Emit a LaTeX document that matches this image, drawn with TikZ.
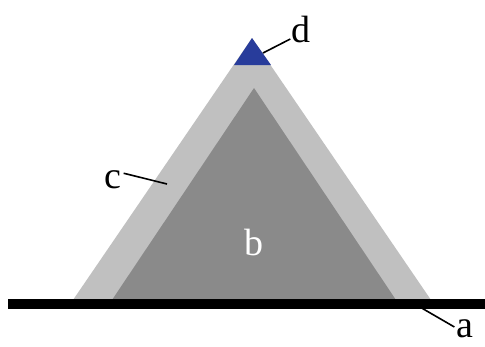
\documentclass[tikz,border=0pt]{standalone}
\usepackage{fontspec}
\setmainfont{Liberation Serif}
\definecolor{outerg}{RGB}{192,192,192}
\definecolor{innerg}{RGB}{138,138,138}
\definecolor{tipblue}{RGB}{40,60,155}
\begin{document}
\begin{tikzpicture}[x=1pt,y=-1pt,
  lbl/.style={font=\fontsize{38}{40}\selectfont, inner sep=0pt, anchor=base},
  leader/.style={draw=black, line width=1.6pt}]
\useasboundingbox[fill=white] (0,0) rectangle (485,346);
% outer triangle c
\fill[outerg] (73,300) -- (252,38) -- (431,300) -- cycle;
% inner triangle b
\fill[innerg] (112,300) -- (254,88) -- (396,300) -- cycle;
% tip d
\fill[tipblue] (234,65) -- (252,38) -- (271,65) -- cycle;
% base bar a
\fill[black] (8,299) rectangle (485,309);
% labels
\node[lbl, text=white] (b) at (254,255) {b};
\node[lbl] (c) at (113,188) {c};
\node[lbl] (d) at (301,42) {d};
\node[lbl] (a) at (465,337) {a};
\coordinate (cend) at (167,184);
\coordinate (dend) at (263,53);
\coordinate (aend) at (413,303);
\draw[leader] (c.east) ++(2,-6) -- (cend);
\draw[leader] ([xshift=-1pt,yshift=-10pt]d.west) -- (dend);
\draw[leader] ([xshift=-2pt,yshift=-8pt]a.north west) -- (aend);
\end{tikzpicture}
\end{document}
